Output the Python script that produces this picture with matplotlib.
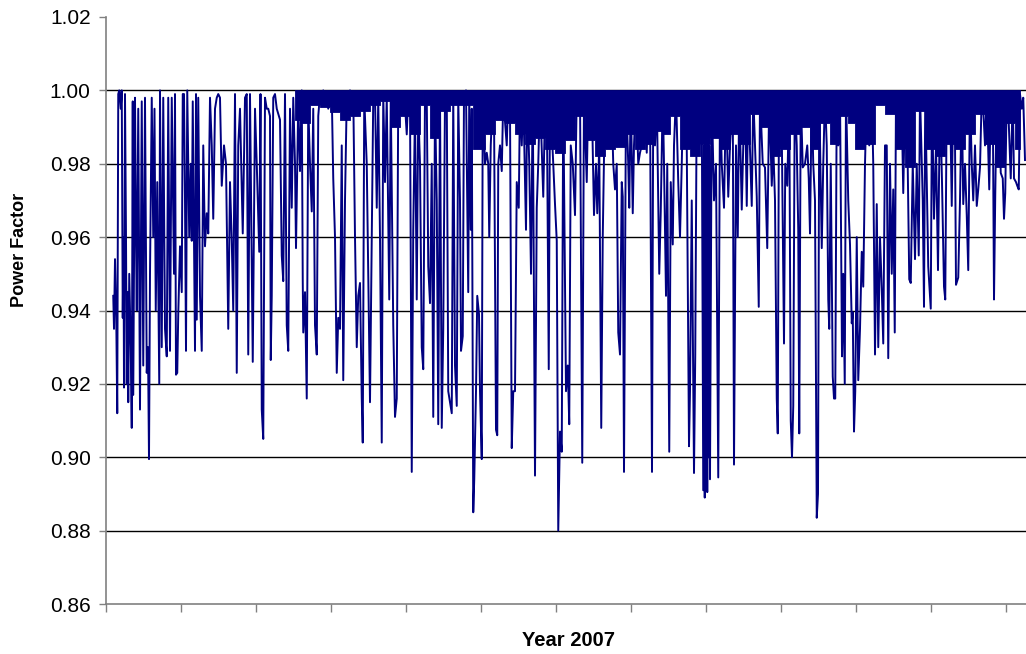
import numpy as np
import matplotlib
matplotlib.use("Agg")
import matplotlib.pyplot as plt

# ---- data: power factor readings, day of year 2007 ----
q1_day = [2.9, 3.2, 3.6, 4.1, 4.5, 4.9, 5.3, 5.9, 6.3, 6.7, 7.0, 7.2, 7.6, 8.0, 8.3, 8.6, 8.9, 9.3, 9.9, 10.3,
          10.7, 10.9, 11.6, 12.0, 12.3, 12.9, 13.6, 14.3, 14.9, 15.6, 16.3, 16.8, 17.2, 17.6, 18.3, 18.9, 19.4, 19.9,
          20.5, 21.3, 21.6, 22.3, 22.9, 23.6, 24.3, 24.9, 25.6, 26.3, 27.2, 27.6, 28.0, 28.5, 28.9, 29.6, 30.3, 30.7,
          31.2, 31.6, 32.0, 32.5, 33.3, 33.9, 34.3, 34.7, 35.6, 36.0, 36.3, 36.9, 37.6, 38.3, 38.9, 39.6, 40.3, 40.9,
          41.6, 42.3, 42.9, 43.6, 44.3, 44.9, 45.6, 46.3, 47.2, 48.0, 48.9, 49.6, 50.3, 50.9, 51.6, 52.3, 52.9, 53.6,
          54.7, 55.6, 56.3, 56.9, 57.6, 58.7, 59.6, 60.3, 61.3, 61.8, 62.3, 62.9, 63.6, 64.3, 64.9, 65.6, 65.9, 66.3,
          66.9, 67.6, 68.3, 69.6]
q1_pf = [0.944, 0.935, 0.954, 0.938, 0.912, 0.999, 1.000, 0.995, 1.000, 0.938, 0.960, 0.919, 0.999, 0.960, 0.920,
         0.945, 0.915, 0.950, 0.930, 0.908, 0.997, 0.917, 0.998, 0.960, 0.940, 0.995, 0.913, 0.997, 0.925, 0.998,
         0.923, 0.930, 0.8995, 0.950, 0.998, 0.960, 0.995, 0.940, 0.975, 0.920, 1.000, 0.930, 0.998, 0.935, 0.9275,
         0.998, 0.929, 0.998, 0.950, 0.999, 0.9225, 0.923, 0.939, 0.9575, 0.945, 0.999, 0.999, 0.970, 0.929, 1.000,
         0.960, 0.980, 0.959, 0.997, 0.929, 0.999, 0.9375, 0.998, 0.944, 0.929, 0.985, 0.9575, 0.9665, 0.961, 0.998,
         0.985, 0.965, 0.995, 0.998, 0.999, 0.998, 0.974, 0.985, 0.980, 0.935, 0.975, 0.959, 0.940, 0.999, 0.923,
         0.985, 0.995, 0.961, 0.998, 0.999, 0.928, 0.999, 0.926, 0.995, 0.980, 0.956, 0.999, 0.913, 0.905, 0.998,
         0.995, 0.995, 0.993, 0.9265, 0.944, 0.998, 0.999, 0.995, 0.992]

q2_day = [70.3, 70.9, 71.6, 72.3, 72.9, 73.6, 74.3, 74.9, 75.6, 76.0, 76.9, 77.6, 78.3, 78.7, 78.9, 79.6, 80.3,
          80.9, 81.6, 82.3, 82.9, 83.6, 84.3, 84.9, 85.6, 86.3, 86.9, 87.6, 88.3, 88.9, 89.6, 90.3, 90.9, 91.6,
          92.3, 92.9, 93.6, 94.3, 94.9, 95.6, 96.3, 96.9, 97.6, 98.3, 98.9, 99.6, 100.3, 100.9, 101.6, 102.3,
          102.7, 103.3, 104.3, 104.9, 105.6, 106.3, 106.9, 107.6, 108.3, 108.9, 109.6, 110.3, 110.9, 111.6, 112.3,
          113.3, 113.9, 114.9, 115.6, 116.3, 116.9, 117.6, 118.3, 118.9, 119.6, 120.3, 120.9, 121.6, 122.3, 122.9,
          123.6, 124.3, 124.9, 125.6, 126.3, 126.9, 127.6, 128.3, 128.9, 129.6, 130.3, 130.9, 131.6, 132.3, 132.9,
          133.6, 134.3, 134.9, 135.6, 136.3, 136.9]
q2_pf = [0.955, 0.948, 0.999, 0.936, 0.929, 0.995, 0.968, 0.998, 0.980, 0.957, 0.997, 0.978, 1.000, 0.948, 0.934,
         0.945, 0.916, 0.996, 0.980, 0.967, 0.995, 0.936, 0.928, 0.993, 0.999, 0.996, 1.000, 0.997, 0.999, 0.995,
         0.998, 0.999, 0.976, 0.960, 0.923, 0.938, 0.935, 0.985, 0.921, 0.970, 0.998, 0.993, 1.000, 0.994, 0.999,
         0.960, 0.930, 0.944, 0.9475, 0.916, 0.904, 0.998, 0.980, 0.950, 0.915, 0.960, 0.998, 0.999, 0.968, 0.998,
         0.960, 0.904, 0.999, 0.975, 0.998, 0.943, 0.998, 0.936, 0.911, 0.916, 0.999, 0.995, 0.998, 0.999, 0.996,
         0.988, 0.999, 0.997, 0.896, 0.962, 0.995, 0.943, 0.995, 0.980, 0.930, 0.924, 0.999, 0.998, 0.952, 0.942,
         0.980, 0.911, 0.997, 0.970, 0.909, 0.999, 0.908, 0.935, 0.998, 0.999, 0.918]

q3_day = [138.3, 138.9, 139.6, 140.3, 140.9, 141.6, 142.0, 142.7, 143.2, 144.0, 144.9, 145.3, 145.9, 146.3, 146.9,
          147.3, 148.0, 148.5, 149.2, 149.6, 150.3, 150.7, 151.6, 152.3, 152.9, 153.3, 153.9, 154.7, 155.2, 156.0,
          156.5, 156.9, 157.6, 158.3, 158.9, 160.3, 160.9, 161.6, 162.3, 162.9, 163.6, 164.3, 165.1, 165.6, 166.3,
          166.9, 168.0, 168.5, 169.3, 170.0, 170.7, 171.6, 172.3, 172.9, 173.6, 174.9, 175.6, 176.3, 177.1, 177.6,
          178.9, 179.6, 180.3, 180.9, 181.6, 182.3, 182.9, 184.0, 184.7, 185.3, 185.9, 186.7, 187.6, 188.3, 188.9,
          189.6, 190.5, 191.2, 192.3, 192.9, 194.3, 195.2, 196.0, 196.5, 197.3, 198.1, 198.7, 199.6, 200.3, 201.6]
q3_pf = [0.912, 0.999, 0.925, 0.914, 0.998, 0.970, 0.929, 0.933, 0.999, 1.000, 0.945, 0.999, 0.962, 0.995, 0.885,
         0.894, 0.918, 0.944, 0.939, 0.918, 0.8995, 0.999, 0.980, 0.983, 0.980, 0.960, 0.985, 0.999, 0.995, 0.9075,
         0.906, 0.980, 0.985, 0.978, 0.998, 0.985, 0.999, 0.995, 0.9025, 0.918, 0.918, 0.975, 0.968, 0.999, 0.985,
         0.999, 0.962, 0.999, 0.980, 0.950, 0.999, 0.895, 0.968, 0.980, 0.999, 0.971, 0.995, 0.999, 0.924, 0.999,
         0.980, 0.969, 0.959, 0.880, 0.907, 0.9015, 0.999, 0.918, 0.925, 0.909, 0.985, 0.980, 0.966, 0.999, 0.998,
         0.999, 0.8985, 0.999, 0.975, 0.999, 0.998, 0.966, 0.980, 0.9665, 0.985, 0.908, 0.960, 0.999, 0.998, 0.999]

q4_day = [202.3, 202.9, 203.6, 204.3, 204.9, 205.6, 206.3, 206.7, 207.2, 208.0, 208.9, 209.3, 209.9, 210.7, 211.2,
          212.0, 212.9, 213.6, 214.3, 214.9, 215.6, 216.3, 216.9, 217.6, 218.4, 218.9, 219.6, 220.3, 221.3, 221.9,
          222.7, 223.2, 224.0, 224.5, 225.3, 225.9, 226.7, 227.2, 228.0, 228.9, 229.6, 230.3, 230.9, 232.3, 233.2,
          233.6, 234.3, 235.2, 235.7, 236.3, 237.3, 238.3, 238.9, 239.2, 239.5, 239.8, 240.0, 240.3, 240.5, 240.8,
          241.1, 241.3, 241.6, 242.3, 243.2, 244.0, 244.9, 245.6, 246.3, 247.2, 248.0, 248.9, 249.6, 250.7, 251.2,
          252.0, 252.7, 253.3, 254.3, 254.9, 255.6, 256.3, 256.9, 258.3, 258.9, 260.3, 261.1, 261.6, 262.7, 263.6,
          264.5, 265.3, 266.3, 266.9, 267.6, 268.3, 268.7, 269.2, 270.3]
q4_pf = [0.995, 0.980, 0.973, 0.980, 0.934, 0.928, 0.975, 0.971, 0.896, 0.999, 0.980, 0.968, 0.999, 0.9665, 0.985,
         0.999, 0.980, 0.983, 0.985, 0.999, 0.995, 0.983, 0.999, 0.998, 0.896, 0.999, 0.985, 0.999, 0.950, 0.967,
         0.999, 0.980, 0.944, 0.980, 0.9015, 0.975, 0.958, 0.985, 0.999, 0.975, 0.960, 0.980, 0.999, 0.985, 0.903,
         0.918, 0.970, 0.8957, 0.928, 0.999, 0.985, 0.999, 0.891, 0.985, 0.889, 0.999, 0.901, 0.980, 0.8905, 0.999,
         0.900, 0.985, 0.894, 0.999, 0.970, 0.980, 0.8945, 0.999, 0.980, 0.968, 0.999, 0.971, 0.985, 0.999, 0.898,
         0.985, 0.960, 0.999, 0.9675, 0.985, 0.999, 0.9685, 0.999, 0.9685, 0.999, 0.971, 0.941, 0.999, 0.980, 0.979,
         0.957, 0.999, 0.974, 0.985, 0.970, 0.916, 0.9065, 0.999, 0.989]

q5_day = [271.2, 271.7, 272.5, 273.3, 273.9, 274.4, 274.9, 275.5, 276.3, 276.9, 277.3, 277.9, 278.7, 279.6, 280.5,
          281.1, 281.6, 282.3, 282.9, 283.6, 284.3, 284.8, 285.3, 286.3, 286.9, 287.6, 288.3, 288.9, 289.3, 289.9,
          290.7, 291.2, 291.7, 292.3, 292.9, 293.6, 294.4, 294.9, 295.5, 296.0, 296.9, 297.6, 298.3, 298.7, 299.2,
          299.7, 300.3, 300.9, 301.6, 302.3, 302.9, 303.6, 304.3, 305.3, 306.3, 306.9, 307.6, 308.3, 308.9, 309.6,
          310.3, 310.9, 311.6, 312.3, 312.9, 313.6, 314.3, 314.9, 315.5, 316.0, 316.9]
q5_pf = [0.931, 0.980, 0.974, 0.999, 0.910, 0.900, 0.914, 0.999, 0.985, 0.962, 0.9065, 0.999, 0.979, 0.980, 0.985,
         0.976, 0.961, 0.999, 0.980, 0.970, 0.8835, 0.890, 0.999, 0.957, 0.980, 0.999, 0.985, 0.943, 0.935, 0.980,
         0.922, 0.916, 0.916, 0.999, 0.985, 0.999, 0.9275, 0.950, 0.920, 0.999, 0.970, 0.958, 0.9365, 0.9395, 0.907,
         0.918, 0.960, 0.921, 0.935, 0.956, 0.9465, 0.980, 0.999, 0.985, 0.999, 0.980, 0.928, 0.969, 0.930, 0.960,
         0.946, 0.931, 0.985, 0.985, 0.927, 0.980, 0.950, 0.973, 0.934, 0.999, 0.998]

q6_day = [318.3, 318.9, 319.6, 320.3, 321.3, 321.9, 322.7, 323.6, 324.3, 325.1, 325.6, 326.7, 327.2, 327.7, 328.9,
          329.9, 330.4, 331.2, 332.0, 332.8, 333.6, 334.4, 335.2, 335.7, 336.3, 337.6, 338.3, 338.9, 339.6, 340.0,
          340.9, 341.6, 342.3, 342.9, 343.6, 344.3, 344.9, 345.6, 346.3, 346.9, 347.6, 348.3, 348.9, 349.6, 350.3,
          350.9, 351.6, 352.3, 353.3, 353.9, 354.7, 355.2, 355.7, 356.3, 357.1, 357.9, 358.7, 359.2, 359.7, 360.3,
          360.9, 361.9, 362.7, 363.2, 364.0, 364.5, 365.1, 365.6, 366.3, 366.9, 367.6]
q6_pf = [0.995, 0.972, 0.998, 0.999, 0.9485, 0.9475, 0.980, 0.954, 0.980, 0.955, 0.999, 0.970, 0.941, 0.999, 0.952,
         0.9405, 0.999, 0.965, 0.985, 0.951, 0.999, 0.975, 0.9465, 0.943, 0.999, 0.998, 0.9685, 0.999, 0.9865, 0.947,
         0.949, 0.970, 0.999, 0.969, 0.980, 0.966, 0.951, 0.999, 0.980, 0.970, 0.985, 0.9685, 0.973, 0.979, 0.999,
         0.995, 0.985, 0.999, 0.973, 0.998, 0.999, 0.943, 0.9715, 0.999, 0.998, 0.9775, 0.976, 0.965, 0.972, 0.999,
         0.995, 0.976, 0.999, 0.976, 0.975, 0.974, 0.973, 0.999, 0.995, 0.998, 0.981]

# lower edge of the dense band of readings just under 1.00 (read every ~4 days, from late March)
band_day = [75.6, 79.6, 83.6, 87.6, 91.6, 95.6, 99.6, 103.6, 107.6, 111.6, 115.6, 119.6, 123.6, 127.6, 131.6,
            135.6, 139.6, 143.6,
            149.6, 153.6, 157.6, 161.6, 165.6, 169.6, 173.6, 177.6, 181.6, 185.6, 189.6, 193.6, 197.6, 201.6,
            205.6, 209.6, 213.6, 217.6, 221.6,
            223.6, 227.6, 231.6, 235.6, 239.6, 243.6, 247.6, 251.6, 255.6, 259.6, 263.6, 267.6, 271.6, 275.6,
            279.6, 283.6, 287.6, 291.6, 295.6,
            297.6, 301.6, 305.6, 309.6, 313.6, 317.6, 321.6, 325.6, 329.6, 333.6, 337.6, 341.6, 345.6, 349.6,
            353.6, 357.6, 361.6, 365.6]
band_low = [0.992, 0.991, 0.996, 0.9955, 0.994, 0.992, 0.993, 0.9945, 0.996, 0.997, 0.990, 0.993, 0.988, 0.996,
            0.987, 0.9945, 0.996, 0.996,
            0.984, 0.988, 0.992, 0.991, 0.988, 0.9855, 0.987, 0.984, 0.983, 0.9865, 0.993, 0.9865, 0.982, 0.984,
            0.9845, 0.988, 0.984, 0.9855, 0.989,
            0.988, 0.993, 0.984, 0.982, 0.9855, 0.987, 0.984, 0.988, 0.9855, 0.9935, 0.990, 0.982, 0.984, 0.988,
            0.990, 0.984, 0.991, 0.9855, 0.993,
            0.991, 0.984, 0.9855, 0.996, 0.9935, 0.984, 0.979, 0.9945, 0.984, 0.982, 0.9855, 0.984, 0.988, 0.9935,
            0.9855, 0.979, 0.991, 0.984]
band_top = 1.000

y_ticks = [0.86, 0.88, 0.90, 0.92, 0.94, 0.96, 0.98, 1.00, 1.02]
x_label = "Year 2007"
y_label = "Power Factor"

segments = [(q1_day, q1_pf), (q2_day, q2_pf), (q3_day, q3_pf),
            (q4_day, q4_pf), (q5_day, q5_pf), (q6_day, q6_pf), (band_day, band_low)]
for i, (d, p) in enumerate(segments):
    assert len(d) == len(p), (i, len(d), len(p))
day = np.concatenate([np.asarray(d, float) for d, _ in segments[:-1]])
pf = np.concatenate([np.asarray(p, float) for _, p in segments[:-1]])

plt.rcParams['font.family'] = ['Liberation Sans', 'DejaVu Sans']

W, H = 1026, 654
navy = '#000080'
fig = plt.figure(figsize=(W / 100, H / 100), dpi=100)
ax = fig.add_axes([106 / W, 1 - 604 / H, 920 / W, 587 / H])

ax.fill_between(band_day, band_low, band_top, step='mid', color=navy, lw=0.6, zorder=3)
ax.plot(day, pf, color=navy, lw=1.4, zorder=3)

ax.set_xlim(0, 368)
ax.set_ylim(0.86, 1.02)
ax.set_yticks(y_ticks)
ax.set_yticklabels([f"{v:.2f}" for v in y_ticks])
ax.set_xticks(np.arange(0, 361, 30))
ax.set_xticklabels([])

ax.set_axisbelow(True)
ax.yaxis.grid(True, color='black', lw=1.0)
for gl, v in zip(ax.get_ygridlines(), y_ticks):
    if v >= 1.015 or v <= 0.865:
        gl.set_visible(False)

for s in ['top', 'right']:
    ax.spines[s].set_visible(False)
for s in ['left', 'bottom']:
    ax.spines[s].set_color('#808080')
    ax.spines[s].set_linewidth(1.2)

ax.tick_params(axis='y', direction='out', length=5, width=1, color='#808080',
               labelsize=15, pad=6, labelcolor='black')
ax.tick_params(axis='x', direction='out', length=6, width=1, color='#808080')

fig.text(568 / W, 1 - 640 / H, x_label, ha='center', va='center',
         fontsize=14.5, fontweight='bold')
fig.text(20 / W, 1 - 250 / H, y_label, ha='center', va='center',
         rotation=90, fontsize=13, fontweight='bold')

fig.savefig('out.png', dpi=100)
